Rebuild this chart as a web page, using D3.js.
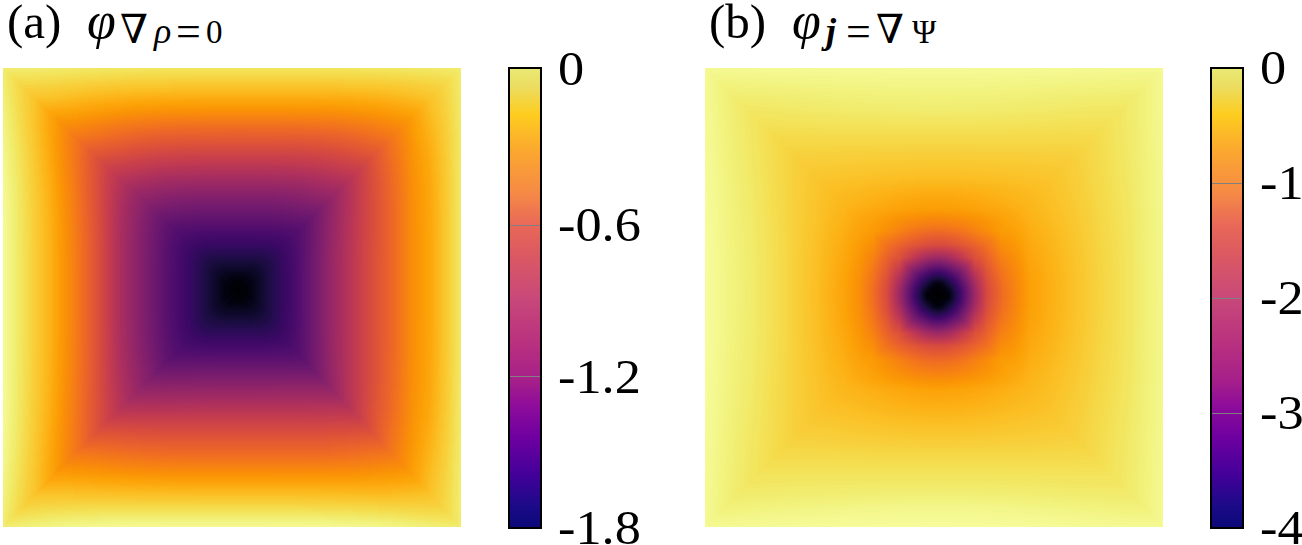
<!DOCTYPE html>
<html>
<head>
<meta charset="utf-8">
<script src="https://cdn.jsdelivr.net/npm/d3@7"></script>
<style>
  html, body { margin: 0; padding: 0; background: #fff; }
  #chart { position: relative; width: 1302px; height: 545px; overflow: hidden; }
  canvas, svg { position: absolute; left: 0; top: 0; }
  text { font-family: 'Liberation Serif', serif; fill: #000; }
</style>
</head>
<body>
<div id="chart"></div>
<script>
// values, r = 0 at the dark centre, r = 1 at the panel edge
const aDomain = [-1.8, 0]
const aLeftR = [0, 0.05, 0.1, 0.2, 0.3, 0.4, 0.5, 0.6, 0.7, 0.8, 0.9, 0.95, 1]
const aLeft = [-1.8, -1.76, -1.66, -1.49, -1.35, -1.17, -0.98, -0.72, -0.5, -0.31, -0.16, -0.09, -0.03]
const aRightR = [0, 0.05, 0.1, 0.2, 0.265, 0.41, 0.56, 0.71, 0.78, 0.86, 0.94, 1]
const aRight = [-1.8, -1.76, -1.66, -1.49, -1.39, -1.08, -0.81, -0.58, -0.45, -0.36, -0.22, -0.11]
const aTopR = [0, 0.05, 0.1, 0.2, 0.28, 0.44, 0.585, 0.73, 0.81, 0.89, 0.96, 1]
const aTop = [-1.8, -1.76, -1.66, -1.49, -1.37, -1.12, -0.85, -0.59, -0.43, -0.29, -0.18, -0.13]
const aBottomR = [0, 0.05, 0.1, 0.2, 0.28, 0.42, 0.56, 0.7, 0.77, 0.84, 0.91, 0.98, 1]
const aBottom = [-1.8, -1.76, -1.66, -1.49, -1.35, -1.08, -0.81, -0.58, -0.45, -0.31, -0.18, -0.06, -0.04]
const aDiagR = [0, 0.1, 0.2, 0.3, 0.45, 0.7, 0.87, 1]
const aDiag = [-1.8, -1.63, -1.45, -1.31, -1.02, -0.52, -0.24, -0.1]

const bDomain = [-4, 0]
const bLeftR = [0, 0.02, 0.047, 0.107, 0.163, 0.219, 0.279, 0.335, 0.408, 0.52, 0.665, 0.807, 0.906, 0.979, 1]
const bLeft = [-4, -3.98, -3.92, -3.12, -2.32, -1.68, -1.28, -1, -0.8, -0.6, -0.38, -0.22, -0.14, -0.06, -0.04]
const bRightR = [0, 0.02, 0.047, 0.107, 0.163, 0.219, 0.29, 0.41, 0.555, 0.707, 0.853, 0.929, 1]
const bRight = [-4, -3.98, -3.92, -3.12, -2.32, -1.68, -1.28, -0.84, -0.64, -0.44, -0.28, -0.18, -0.12]
const bTopR = [0, 0.02, 0.047, 0.107, 0.163, 0.219, 0.3, 0.374, 0.52, 0.67, 0.815, 0.916, 0.991, 1]
const bTop = [-4, -3.98, -3.92, -3.12, -2.32, -1.68, -1.2, -0.88, -0.6, -0.4, -0.22, -0.14, -0.08, -0.07]
const bBottomR = [0, 0.02, 0.047, 0.107, 0.163, 0.219, 0.29, 0.41, 0.552, 0.698, 0.84, 0.914, 0.983, 1]
const bBottom = [-4, -3.98, -3.92, -3.12, -2.32, -1.68, -1.28, -0.82, -0.6, -0.38, -0.22, -0.12, -0.06, -0.05]
const bDiagR = [0, 0.03, 0.065, 0.1, 0.165, 0.28, 0.4, 0.535, 0.75, 0.86, 1]
const bDiag = [-4, -3.9, -3.3, -2.7, -1.6, -0.88, -0.66, -0.52, -0.32, -0.23, -0.09]

// colour bar, 0 = top, 1 = bottom
const barStops = [0, 0.04, 0.1, 0.18, 0.27, 0.34, 0.4, 0.5, 0.6, 0.68, 0.73, 0.8, 0.88, 0.95, 1]
const barColors = ['#e8ea74', '#ecdc60', '#fdcd1f', '#fba72f', '#f58a45', '#e96858', '#dc5a60', '#c8487a',
  '#b8307f', '#a51f8a', '#8f0d9a', '#6f00a0', '#45009a', '#1c0a88', '#0a0878']

const aTicks = [0, -0.6, -1.2, -1.8]
const aTickLabels = ['0', '-0.6', '-1.2', '-1.8']
const bTicks = [0, -1, -2, -3, -4]
const bTickLabels = ['0', '-1', '-2', '-3', '-4']

const width = 1302
const height = 545

const chart = d3.select('#chart')
const svg = chart.append('svg').attr('width', width).attr('height', height)

function profile(rs, vals) {
  return d3.scaleLinear().domain(rs).range(vals).clamp(true)
}

function drawField(p) {
  const w = p.x1 - p.x0
  const h = p.y1 - p.y0
  const canvas = chart.append('canvas')
    .attr('width', w).attr('height', h)
    .style('left', p.x0 + 'px').style('top', p.y0 + 'px')
  const ctx = canvas.node().getContext('2d')
  const img = ctx.createImageData(w, h)

  const xNorm = d3.scaleLinear().domain([p.x0, p.cx, p.x1]).range([-1, 0, 1])
  const yNorm = d3.scaleLinear().domain([p.y0, p.cy, p.y1]).range([-1, 0, 1])
  const color = d3.scaleSequential(d3.interpolateInferno).domain(p.domain)

  for (let j = 0; j < h; j++) {
    const v = yNorm(p.y0 + j + 0.5)
    for (let i = 0; i < w; i++) {
      const u = xNorm(p.x0 + i + 0.5)
      const au = Math.abs(u)
      const av = Math.abs(v)
      const r = Math.max(au, av)
      const s = r === 0 ? 0 : Math.min(au, av) / r
      const hVal = u < 0 ? p.left(r) : p.right(r)
      const vVal = v < 0 ? p.top(r) : p.bottom(r)
      // sides only mix close to the diagonal crease
      const cross = Math.pow(s, 3) / 2
      const hw = au >= av ? 1 - cross : cross
      const side = hw * hVal + (1 - hw) * vVal
      const m = Math.pow(1.8 * s * s - 0.8 * s * s * s, p.sharp)
      const val = side * (1 - m) + p.diag(r) * m
      const c = d3.rgb(color(val))
      const k = (j * w + i) * 4
      img.data[k] = c.r
      img.data[k + 1] = c.g
      img.data[k + 2] = c.b
      img.data[k + 3] = 255
    }
  }
  ctx.putImageData(img, 0, 0)
}

function drawBar(b) {
  const g = svg.append('g')
  const frac = d3.scaleLinear().domain([b.y0, b.y1]).range([0, 1])
  const color = d3.scaleLinear().domain(barStops).range(barColors).interpolate(d3.interpolateRgb)

  g.selectAll('rect.strip')
    .data(d3.range(b.y0, b.y1))
    .enter()
    .append('rect')
    .attr('class', 'strip')
    .attr('x', b.x0)
    .attr('y', (d) => d)
    .attr('width', b.x1 - b.x0)
    .attr('height', 1.5)
    .attr('fill', (d) => color(frac(d)))

  const yScale = d3.scaleLinear().domain(b.domain).range([b.y0, b.y1])
  const axis = d3.axisRight(yScale)
    .tickValues(b.ticks)
    .tickSize(-(b.x1 - b.x0))
    .tickPadding(17)
    .tickFormat((d, i) => b.labels[i])

  const ag = g.append('g').attr('transform', `translate(${b.x1},0)`).call(axis)
  ag.select('.domain').remove()
  ag.selectAll('.tick line')
    .attr('stroke', '#808080')
    .attr('stroke-width', 1)
    .attr('shape-rendering', 'crispEdges')
    .attr('display', (d) => (d === b.ticks[0] || d === b.ticks[b.ticks.length - 1] ? 'none' : null))
  ag.selectAll('.tick text')
    .style('font-family', "'Liberation Serif', serif")
    .style('font-size', '48px')
    .attr('fill', '#000')
    .attr('dy', '0.33em')
    .attr('transform', (d) => `translate(0,${b.labelShift(d)})`)
    .each(function () {
      // Computer Modern digits run wider than Liberation Serif
      const len = this.getComputedTextLength()
      d3.select(this).attr('textLength', len * 1.09).attr('lengthAdjust', 'spacingAndGlyphs')
    })

  g.append('rect')
    .attr('x', b.x0)
    .attr('y', b.y0)
    .attr('width', b.x1 - b.x0)
    .attr('height', b.y1 - b.y0)
    .attr('fill', 'none')
    .attr('stroke', '#000')
    .attr('stroke-width', 2)
}

function label(x, y, str, size, opts) {
  const o = opts || {}
  svg.append('text')
    .attr('x', x)
    .attr('y', y)
    .attr('font-size', size)
    .attr('font-style', o.italic ? 'italic' : 'normal')
    .attr('font-weight', o.bold ? 'bold' : 'normal')
    .style('font-family', o.font || "'Liberation Serif', serif")
    .text(str)
}

drawField({
  x0: 3, x1: 461, y0: 68, y1: 527, cx: 238, cy: 290, domain: aDomain, sharp: 3,
  left: profile(aLeftR, aLeft), right: profile(aRightR, aRight),
  top: profile(aTopR, aTop), bottom: profile(aBottomR, aBottom), diag: profile(aDiagR, aDiag),
})
drawField({
  x0: 705, x1: 1163, y0: 68, y1: 527, cx: 938, cy: 295, domain: bDomain, sharp: 1,
  left: profile(bLeftR, bLeft), right: profile(bRightR, bRight),
  top: profile(bTopR, bTop), bottom: profile(bBottomR, bBottom), diag: profile(bDiagR, bDiag),
})

// top of the a bar sits slightly above 0, its 0 label is still level with the frame
drawBar({
  x0: 509, x1: 541, y0: 68, y1: 528, domain: [0.02, -1.8],
  ticks: aTicks, labels: aTickLabels,
  labelShift: (d) => (d === 0 ? -4 : 0),
})
drawBar({
  x0: 1211, x1: 1243, y0: 68, y1: 528, domain: [0, -4],
  ticks: bTicks, labels: bTickLabels,
  labelShift: () => 0,
})

// titles
label(7, 38, '(a)', 49)
label(87, 38, 'φ', 52, { italic: true })
label(120, 43, '∇', 40, { font: "'DejaVu Serif', serif" })
label(154, 43, 'ρ', 36, { italic: true })
label(176, 46, '=', 44)
label(206, 43, '0', 33)

label(709, 38, '(b)', 49)
label(792, 38, 'φ', 52, { italic: true })
label(826, 43, 'j', 36, { italic: true, bold: true })
label(846, 46, '=', 44)
label(876, 43, '∇', 40, { font: "'DejaVu Serif', serif" })
label(912, 43, 'Ψ', 33)
</script>
</body>
</html>
